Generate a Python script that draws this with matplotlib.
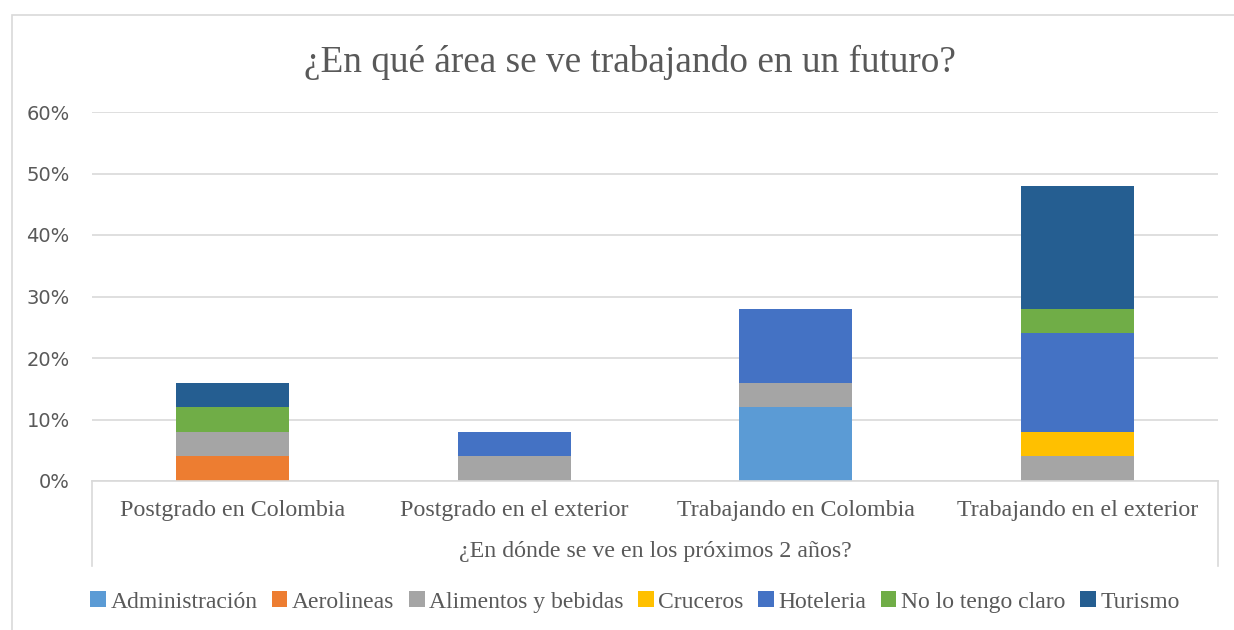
import matplotlib
matplotlib.use("Agg")
import matplotlib.pyplot as plt
import matplotlib.patches as patches
import numpy as np

categorias = ["Postgrado en Colombia", "Postgrado en el exterior",
              "Trabajando en Colombia", "Trabajando en el exterior"]

series = ["Administración", "Aerolineas", "Alimentos y bebidas", "Cruceros",
          "Hoteleria", "No lo tengo claro", "Turismo"]

administracion = [0, 0, 0.12, 0]
aerolineas = [0.04, 0, 0, 0]
alimentos = [0.04, 0.04, 0.04, 0.04]
cruceros = [0, 0, 0, 0.04]
hoteleria = [0, 0.04, 0.12, 0.16]
no_claro = [0.04, 0, 0, 0.04]
turismo = [0.04, 0, 0, 0.20]

valores = [administracion, aerolineas, alimentos, cruceros, hoteleria, no_claro, turismo]
colores = ["#5B9BD5", "#ED7D31", "#A5A5A5", "#FFC000", "#4472C4", "#70AD47", "#255E91"]

yticks = [0, 0.1, 0.2, 0.3, 0.4, 0.5, 0.6]
ytick_labels = ["0%", "10%", "20%", "30%", "40%", "50%", "60%"]

W, H = 1234, 630
fig = plt.figure(figsize=(W / 100, H / 100), dpi=100)
serif = "Liberation Serif"
gris_txt = "#595959"
gris_linea = "#D9D9D9"

# borde del grafico
fig.patches.append(patches.Rectangle((12 / W, -0.1), 1.2, (H - 15) / H + 0.1,
                                     transform=fig.transFigure, fill=False,
                                     edgecolor=gris_linea, linewidth=1.2))

ax = fig.add_axes([92 / W, (H - 481) / H, (1218 - 92) / W, (481 - 112) / H])
x = np.arange(len(categorias))
base = np.zeros(len(categorias))
for nombre, vals, col in zip(series, valores, colores):
    ax.bar(x, vals, width=0.4, bottom=base, color=col, label=nombre, zorder=3)
    base += np.array(vals)

ax.set_xlim(-0.5, len(categorias) - 0.5)
ax.set_ylim(0, 0.6)
ax.set_yticks(yticks)
ax.set_yticklabels(ytick_labels, fontsize=14, color=gris_txt, family="DejaVu Sans")
ax.tick_params(axis="y", length=0, pad=16)
ax.set_xticks(x)
ax.set_xticklabels(categorias, fontsize=17.3, color=gris_txt, family=serif)
ax.tick_params(axis="x", length=0, pad=14)
ax.grid(axis="y", color=gris_linea, linewidth=1.2, zorder=0)
for s in ["top", "left", "right"]:
    ax.spines[s].set_visible(False)
ax.spines["bottom"].set_color(gris_linea)
ax.spines["bottom"].set_linewidth(1.2)
ax.spines["bottom"].set_zorder(4)

# caja del eje de categorias
prof = 85 / (481 - 112) * 0.6
ax.plot([-0.5, -0.5], [0, -prof], color=gris_linea, lw=1.2, clip_on=False)
ax.plot([3.5, 3.5], [0, -prof], color=gris_linea, lw=1.2, clip_on=False)

fig.text(655 / W, 1 - 551 / H, "¿En dónde se ve en los próximos 2 años?",
         ha="center", va="center", fontsize=17.2, color=gris_txt, family=serif)

fig.text(630 / W, 1 - 62 / H, "¿En qué área se ve trabajando en un futuro?",
         ha="center", va="center", fontsize=26.8, color=gris_txt, family=serif)

fig.legend(loc="center", bbox_to_anchor=(635 / W, 1 - 602 / H), ncol=7,
           frameon=False, prop={"family": serif, "size": 17},
           labelcolor=gris_txt, handlelength=0.65, handleheight=0.65,
           handletextpad=0.2, columnspacing=0.62)

fig.savefig("out.png", dpi=100)
